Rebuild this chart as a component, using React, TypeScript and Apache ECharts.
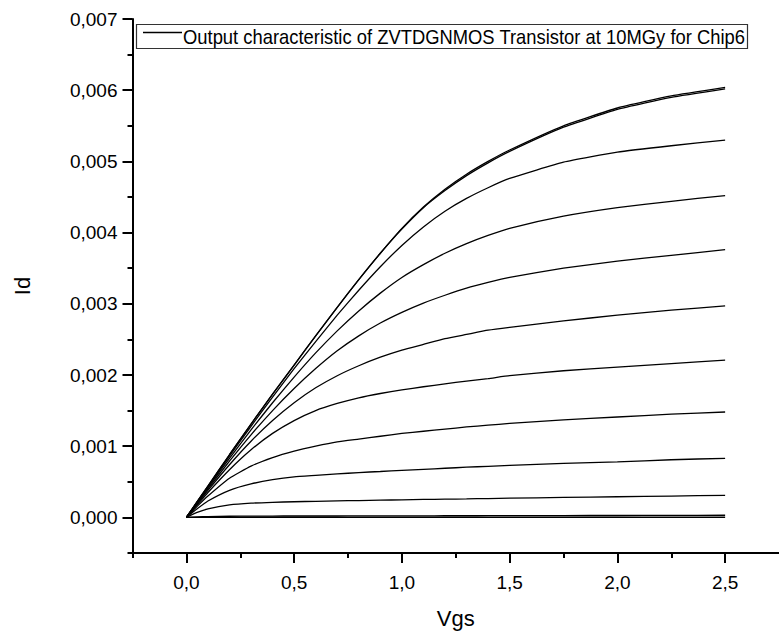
import React, { useEffect, useRef } from "react";
import * as echarts from "echarts";

// Vgs sample points (V)
const vgs = [0, 0.05, 0.1, 0.2, 0.3, 0.4, 0.5, 0.6, 0.7, 0.8, 0.9, 1.0, 1.1, 1.2, 1.3, 1.4, 1.5, 1.75, 2.0, 2.25, 2.5];

// Id values in mA
const curve1 = [0, 0.22, 0.44, 0.88, 1.31, 1.73, 2.14, 2.55, 2.95, 3.34, 3.71, 4.06, 4.36, 4.61, 4.82, 5.0, 5.16, 5.5, 5.75, 5.92, 6.04];
const curve1b = [0, 0.22, 0.44, 0.88, 1.31, 1.73, 2.14, 2.55, 2.95, 3.34, 3.71, 4.05, 4.35, 4.59, 4.8, 4.98, 5.14, 5.48, 5.73, 5.9, 6.02];
const curve2 = [0, 0.215, 0.43, 0.86, 1.28, 1.69, 2.09, 2.47, 2.84, 3.19, 3.52, 3.82, 4.08, 4.3, 4.48, 4.63, 4.76, 4.99, 5.13, 5.22, 5.3];
const curve3 = [0, 0.21, 0.42, 0.83, 1.23, 1.61, 1.97, 2.31, 2.62, 2.9, 3.15, 3.37, 3.55, 3.71, 3.845, 3.96, 4.06, 4.23, 4.35, 4.44, 4.52];
const curve4 = [0, 0.2, 0.4, 0.79, 1.16, 1.5, 1.81, 2.09, 2.34, 2.55, 2.73, 2.88, 3.01, 3.12, 3.22, 3.3, 3.37, 3.5, 3.6, 3.68, 3.76];
const curve5 = [0, 0.19, 0.38, 0.74, 1.07, 1.36, 1.61, 1.82, 1.99, 2.13, 2.25, 2.35, 2.43, 2.51, 2.57, 2.63, 2.67, 2.76, 2.84, 2.91, 2.97];
const curve6 = [0, 0.175, 0.35, 0.67, 0.95, 1.18, 1.36, 1.5, 1.6, 1.68, 1.74, 1.79, 1.835, 1.875, 1.915, 1.95, 1.99, 2.06, 2.11, 2.16, 2.21];
const curve7 = [0, 0.155, 0.3, 0.55, 0.72, 0.84, 0.93, 1.0, 1.06, 1.1, 1.14, 1.18, 1.21, 1.24, 1.27, 1.295, 1.32, 1.37, 1.41, 1.45, 1.48];
const curve8 = [0, 0.12, 0.23, 0.38, 0.47, 0.53, 0.57, 0.59, 0.61, 0.63, 0.645, 0.66, 0.675, 0.69, 0.705, 0.718, 0.73, 0.76, 0.78, 0.81, 0.83];
const curve9 = [0, 0.07, 0.12, 0.175, 0.2, 0.212, 0.22, 0.226, 0.232, 0.237, 0.242, 0.247, 0.252, 0.256, 0.26, 0.265, 0.27, 0.28, 0.29, 0.3, 0.31];
const curve10 = [0, 0.008, 0.012, 0.016, 0.018, 0.019, 0.02, 0.02, 0.02, 0.021, 0.021, 0.022, 0.022, 0.023, 0.023, 0.024, 0.025, 0.026, 0.027, 0.029, 0.03];
const curve11 = [0, 0.001, 0.002, 0.002, 0.002, 0.002, 0.002, 0.002, 0.002, 0.002, 0.002, 0.002, 0.002, 0.002, 0.002, 0.002, 0.002, 0.002, 0.002, 0.002, 0.002];

const curves = [curve1, curve1b, curve2, curve3, curve4, curve5, curve6, curve7, curve8, curve9, curve10, curve11];

const xMajorTicks = [0, 0.5, 1.0, 1.5, 2.0, 2.5];
const xMinorTicks = [-0.25, 0.25, 0.75, 1.25, 1.75, 2.25];
const yMajorTicks = [0, 0.001, 0.002, 0.003, 0.004, 0.005, 0.006, 0.007];
const yMinorTicks = [-0.0005, 0.0005, 0.0015, 0.0025, 0.0035, 0.0045, 0.0055, 0.0065];

const legendText = "Output characteristic of ZVTDGNMOS Transistor at 10MGy for Chip6";

const FONT = "'Liberation Sans', Arial, Helvetica, sans-serif";

export default function App() {
  const ref = useRef<HTMLDivElement>(null);

  useEffect(() => {
    if (!ref.current) return;
    const chart = echarts.init(ref.current, undefined, { renderer: "svg" });

    const axisLine = { show: true, onZero: false, lineStyle: { color: "#000", width: 2 } };
    const hiddenLine = { show: false, onZero: false };
    const tickStyle = { color: "#000", width: 2 };

    const series = curves.map((c, i) => ({
      name: i === 0 ? legendText : "c" + i,
      type: "line",
      xAxisIndex: 0,
      yAxisIndex: 0,
      data: vgs.map((x, k) => [x, c[k] / 1000]),
      showSymbol: false,
      symbol: "none",
      smooth: 0.15,
      lineStyle: { color: "#000", width: 1.3 },
      silent: true,
    }));

    chart.setOption({
      animation: false,
      backgroundColor: "#fff",
      textStyle: { fontFamily: FONT },
      grid: { left: 132.5, top: 19, width: 654, height: 534, containLabel: false },
      xAxis: [
        {
          type: "value",
          min: -0.25,
          max: 2.75,
          axisLine,
          axisTick: { show: true, customValues: xMajorTicks, length: 10, lineStyle: tickStyle },
          axisLabel: {
            customValues: xMajorTicks,
            formatter: (v: number) => v.toFixed(1).replace(".", ","),
            fontSize: 19,
            color: "#000",
            fontFamily: FONT,
            margin: 20,
          },
          splitLine: { show: false },
          name: "Vgs",
          nameLocation: "middle",
          nameGap: 54,
          nameTextStyle: { fontSize: 22, color: "#000", fontFamily: FONT },
        },
        {
          type: "value",
          min: -0.25,
          max: 2.75,
          position: "bottom",
          axisLine: hiddenLine,
          axisTick: { show: true, customValues: xMinorTicks, length: 5, lineStyle: tickStyle },
          axisLabel: { show: false },
          splitLine: { show: false },
        },
      ],
      yAxis: [
        {
          type: "value",
          min: -0.0005,
          max: 0.007,
          axisLine,
          axisTick: { show: true, customValues: yMajorTicks, length: 10, lineStyle: tickStyle },
          axisLabel: {
            customValues: yMajorTicks,
            formatter: (v: number) => v.toFixed(3).replace(".", ","),
            fontSize: 19,
            color: "#000",
            fontFamily: FONT,
            margin: 15,
          },
          splitLine: { show: false },
          name: "Id",
          nameLocation: "middle",
          nameGap: 99,
          nameRotate: 90,
          nameTextStyle: { fontSize: 22, color: "#000", fontFamily: FONT },
        },
        {
          type: "value",
          min: -0.0005,
          max: 0.007,
          position: "left",
          axisLine: hiddenLine,
          axisTick: { show: true, customValues: yMinorTicks, length: 5, lineStyle: tickStyle },
          axisLabel: { show: false },
          splitLine: { show: false },
        },
      ],
      graphic: [
        {
          type: "rect",
          shape: { x: 136.5, y: 24.5, width: 611, height: 24 },
          style: { fill: "#fff", stroke: "#333", lineWidth: 1.2 },
          z: 100,
        },
        {
          type: "line",
          shape: { x1: 143, y1: 32.5, x2: 182, y2: 32.5 },
          style: { stroke: "#000", lineWidth: 1.3 },
          z: 101,
        },
        {
          type: "text",
          x: 183,
          y: 37,
          scaleX: 0.92,
          style: {
            text: legendText,
            fontSize: 20,
            fontFamily: FONT,
            fill: "#000",
            verticalAlign: "middle",
            align: "left",
          },
          z: 101,
        },
      ],
      series,
    });

    return () => chart.dispose();
  }, []);

  return (
    <div
      ref={ref}
      style={{ position: "fixed", left: 0, top: 0, width: 779, height: 639, background: "#fff" }}
    />
  );
}
